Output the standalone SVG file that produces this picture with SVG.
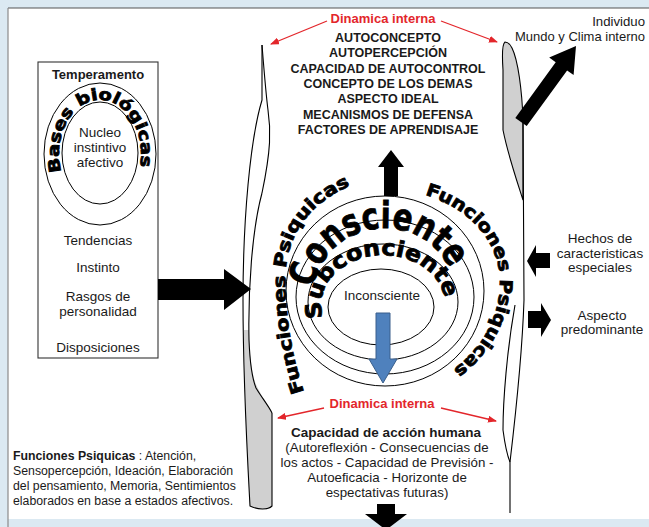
<svg xmlns="http://www.w3.org/2000/svg" width="649" height="527" viewBox="0 0 649 527">
<defs>
<style>
.t{font-family:"Liberation Sans",Arial,sans-serif;fill:#1a1a1a}
.c{text-anchor:middle}
.b{font-weight:bold}
.red{fill:#e3262b}
.w{font-family:"DejaVu Sans","Liberation Sans",sans-serif;font-weight:bold;fill:#000;stroke:#000;stroke-width:0.8}
.ln{fill:none;stroke:#000;stroke-width:1.1}
.ring{fill:none;stroke:#000;stroke-width:1}
.ra{stroke:#e3262b;stroke-width:1.3;fill:none;marker-end:url(#rh)}
.ba{fill:#000}
</style>
<marker id="rh" markerWidth="9" markerHeight="7" refX="8" refY="3.5" orient="auto" markerUnits="userSpaceOnUse"><path d="M0,0 L9,3.5 L0,7 Z" fill="#e3262b"/></marker>
<path id="pBases" d="M61.5,172.5 A41,54 0 1,1 138.5,172.5"/>
<path id="pCons" d="M313.3,288 A72,70 0 0,1 449.5,268"/>
<path id="pSub" d="M323.1,317.9 A62,50 0 1,1 444.8,300.6"/>
<path id="pFL" d="M304,392 C290,350 284,305 286,270 C289,232 311,197 368,179"/>
<path id="pFR" d="M425,195 C460,205 490,230 498,265 C506,305 487,350 442,377"/>
</defs>

<rect width="649" height="527" fill="#dbe9f2"/>
<rect x="8" y="8" width="645" height="511" fill="#fff"/>
<line x1="8" y1="8" x2="649" y2="8" stroke="#555" stroke-width="1.2"/>
<line x1="8" y1="8" x2="8" y2="527" stroke="#8a8a8a" stroke-width="1.2"/>

<g id="scroll-left">
<path d="M244,330 C244,380 247,450 250,506 C258,510 268,510 272,506 L272,413 C266,402 259,392 255,382 C251,370 249,350 249,330 Z" fill="#d0d0d0" stroke="none"/>
<path class="ln" d="M262,45 L262,100 C250,140 243,220 243,300 C243,380 247,450 250,506 C258,510 268,510 272,506 L272,413"/>
<path class="ln" d="M262,45 C264,70 266,95 268,110 C271,130 271,150 262,193"/>
<path class="ln" d="M262,193 C252,230 248,290 249,340 C250,365 252,378 256,388 C262,398 268,405 272,413"/>
</g>

<g id="scroll-right">
<path d="M505,42 C502,44 502,55 503,70 L503,130 C508,155 516,178 523,200 L523,120 C522,90 518,60 512,48 C510,44 507,42 505,42 Z" fill="#d0d0d0" stroke="#000" stroke-width="1.1"/>
<path class="ln" d="M523,120 L524,300 C522,360 515,420 510,462 L510,513"/>
<path class="ln" d="M515,305 C507,350 503,400 503,430 C505,445 507,455 510,462"/>
</g>

<g id="temperamento">
<rect x="38" y="62" width="120" height="296" fill="#fff" stroke="#333" stroke-width="1.1"/>
<text class="t c b" x="98" y="79" font-size="13">Temperamento</text>
<ellipse class="ring" cx="100" cy="154" rx="56" ry="71"/>
<ellipse class="ring" cx="100" cy="153" rx="38" ry="51"/>
<text class="w" font-size="16" stroke-width="0.7"><textPath href="#pBases" startOffset="1" textLength="180" lengthAdjust="spacingAndGlyphs">Bases biológicas</textPath></text>
<text class="t c" font-size="13.5" x="100" y="137">Nucleo</text>
<text class="t c" font-size="13.5" x="100" y="152">instintivo</text>
<text class="t c" font-size="13.5" x="100" y="167">afectivo</text>
<text class="t c" font-size="13.5" x="98" y="245">Tendencias</text>
<text class="t c" font-size="13.5" x="98" y="272">Instinto</text>
<text class="t c" font-size="13.5" x="98" y="301">Rasgos de</text>
<text class="t c" font-size="13.5" x="98" y="316">personalidad</text>
<text class="t c" font-size="13.5" x="98" y="352">Disposiciones</text>
</g>

<g id="rings">
<ellipse class="ring" cx="385" cy="291" rx="99" ry="95"/>
<ellipse class="ring" cx="385" cy="297" rx="89" ry="77"/>
<ellipse class="ring" cx="383" cy="302" rx="75" ry="58"/>
<ellipse class="ring" cx="381" cy="307" rx="53" ry="38"/>
<text class="w" font-size="37" stroke-width="1.6"><textPath href="#pCons" textLength="182" lengthAdjust="spacingAndGlyphs">Consciente</textPath></text>
<text class="w" font-size="22" stroke-width="1"><textPath href="#pSub" textLength="182" lengthAdjust="spacingAndGlyphs">Subconciente</textPath></text>
<text class="t c" font-size="13.5" x="382" y="300">Inconsciente</text>
<text class="w" font-size="17.5"><textPath href="#pFL" textLength="236" lengthAdjust="spacingAndGlyphs">Funciones Psiquicas</textPath></text>
<text class="w" font-size="17.5"><textPath href="#pFR" textLength="226" lengthAdjust="spacingAndGlyphs">Funciones Psiquicas</textPath></text>
</g>

<g id="dinamica-top">
<text class="t c b red" font-size="13" x="383" y="23">Dinamica interna</text>
<text class="t c b" font-size="12.5" x="388" y="42">AUTOCONCEPTO</text>
<text class="t c b" font-size="12.5" x="388" y="57.3">AUTOPERCEPCIÓN</text>
<text class="t c b" font-size="12.5" x="388" y="72.6">CAPACIDAD  DE AUTOCONTROL</text>
<text class="t c b" font-size="12.5" x="388" y="87.9">CONCEPTO  DE LOS DEMAS</text>
<text class="t c b" font-size="12.5" x="388" y="103.2">ASPECTO  IDEAL</text>
<text class="t c b" font-size="12.5" x="388" y="118.5">MECANISMOS  DE DEFENSA</text>
<text class="t c b" font-size="12.5" x="388" y="133.8">FACTORES  DE APRENDISAJE</text>
</g>

<g id="dinamica-bottom">
<text class="t c b red" font-size="13" x="382" y="408">Dinamica interna</text>
<text class="t c b" font-size="13.5" x="386" y="437">Capacidad de acción humana</text>
<text class="t c" font-size="13.3" x="387" y="452">(Autoreflexión - Consecuencias de</text>
<text class="t c" font-size="13.3" x="387" y="467">los actos - Capacidad de Previsión -</text>
<text class="t c" font-size="13.3" x="387" y="482">Autoeficacia - Horizonte de</text>
<text class="t c" font-size="13.3" x="387" y="497">espectativas futuras)</text>
</g>

<g id="individuo">
<text class="t" font-size="13.2" x="645" y="26" text-anchor="end">Individuo</text>
<text class="t" font-size="13" x="645" y="41" text-anchor="end">Mundo y Clima interno</text>
</g>

<g id="hechos">
<text class="t c" font-size="13.5" x="600" y="243">Hechos de</text>
<text class="t c" font-size="13.5" x="600" y="257.5">caracteristicas</text>
<text class="t c" font-size="13.5" x="600" y="272">especiales</text>
</g>

<g id="aspecto">
<text class="t c" font-size="13.5" x="602" y="320">Aspecto</text>
<text class="t c" font-size="13.5" x="602" y="334">predominante</text>
</g>

<g id="funciones-nota">
<text class="t" font-size="12.3" x="13" y="460"><tspan font-weight="bold">Funciones  Psiquicas</tspan> : Atención,</text>
<text class="t" font-size="12.3" x="13" y="475">Sensopercepción, Ideación, Elaboración</text>
<text class="t" font-size="12.3" x="13" y="490">del pensamiento, Memoria, Sentimientos</text>
<text class="t" font-size="12.3" x="13" y="505">elaborados en base a estados afectivos.</text>
</g>

<g id="connectors">
<path class="ra" d="M327,21 L271,44"/>
<path class="ra" d="M441,21 L497,42"/>
<path class="ra" d="M324,408 L278,418"/>
<path class="ra" d="M441,408 L496,421"/>
<polygon class="ba" points="158,279 224,279 224,269 251,289 224,310 224,300 158,300"/>
<polygon class="ba" points="384,196 384,167 378,167 391,150 404,167 398,167 398,196"/>
<polygon fill="#4f81bd" stroke="#3a5f8c" stroke-width="1" points="376,313 390,313 390,359 397,359 383,383 369,359 376,359"/>
<polygon class="ba" points="515.3,117.9 555.7,62.2 549.2,57.5 576,46 573.6,75.1 567.1,70.4 526.7,126.1"/>
<polygon class="ba" points="550,253 536,253 536,245 527,261 536,277 536,268 550,268"/>
<polygon class="ba" points="528,311 541,311 541,303 551,320 541,337 541,328 528,328"/>
<polygon class="ba" points="377,504 395,504 395,514 407,514 386,530 365,514 377,514"/>
</g>
</svg>
